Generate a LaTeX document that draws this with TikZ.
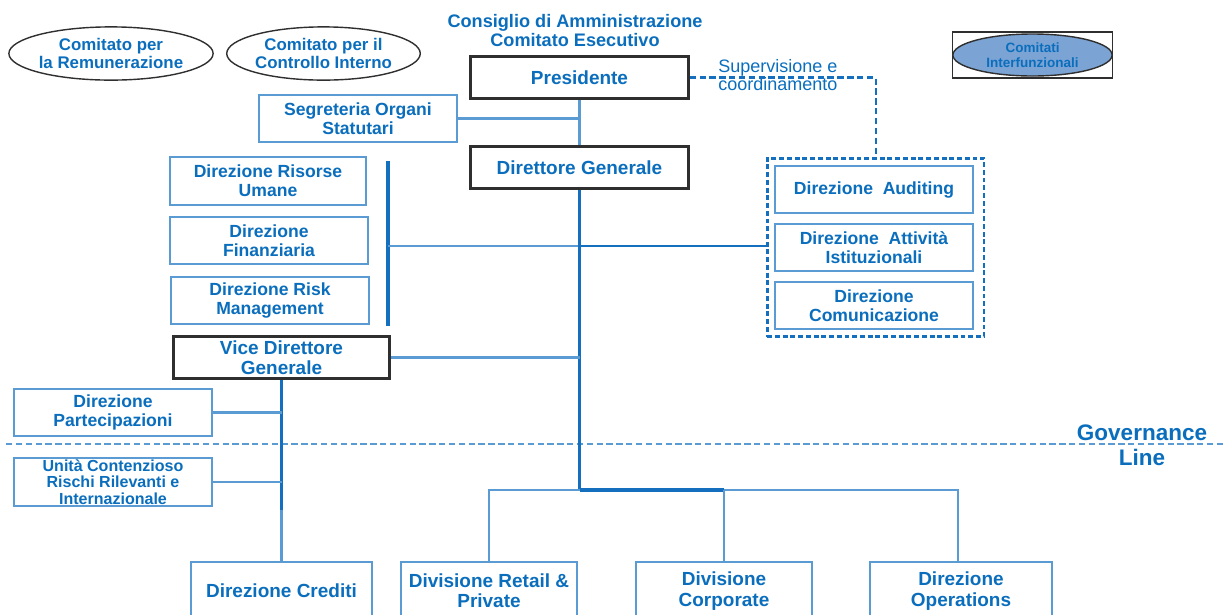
\documentclass[tikz,border=0pt]{standalone}
\usepackage{fontspec}
\setmainfont{Liberation Sans}
\usetikzlibrary{positioning,shapes.geometric,fit}
\definecolor{TextBlue}{HTML}{0A6EBD}
\definecolor{Spine}{HTML}{1470BE}
\definecolor{Branch}{HTML}{5A9BD3}
\definecolor{Frame}{HTML}{2F2F2F}
\definecolor{Bubble}{HTML}{7BA3D4}
\tikzset{
  office/.style={rectangle, draw=Branch, line width=1.4pt, fill=white,
    text=TextBlue, font=\fontsize{12.5}{13.5}\selectfont\bfseries,
    align=center, inner sep=0pt, minimum width=4.95cm, minimum height=1.18cm},
  chief/.style={office, draw=Frame, line width=2.2pt,
    font=\fontsize{13.5}{14.5}\selectfont\bfseries, minimum height=1.03cm},
  division/.style={office, font=\fontsize{13.5}{14.5}\selectfont\bfseries,
    minimum height=1.45cm},
  committee/.style={ellipse, draw=Frame, line width=1pt, text=TextBlue,
    align=center, inner sep=0pt, minimum height=1.33cm,
    font=\fontsize{12}{13.2}\selectfont\bfseries},
  spine/.style={draw=Spine, line width=2.2pt},
  branch/.style={draw=Branch, line width=1.5pt},
  oversight/.style={draw=Spine, line width=1.5pt, dash pattern=on 4.5pt off 2.5pt},
  staffgroup/.style={draw=Spine, line width=2pt, dash pattern=on 3.5pt off 2pt,
    inner xsep=0.21cm, inner ysep=0.17cm},
  govline/.style={draw=Branch, line width=1.4pt, dash pattern=on 4.5pt off 2.5pt}
}

\begin{document}
\begin{tikzpicture}[x=0.025cm, y=-0.025cm]
  \useasboundingbox (0,0) rectangle (1224,614);
  \clip (0,0) rectangle (1224,614);

  % committees
  \node[committee, minimum width=4.93cm] (remun) at (111,53.5) {Comitato per\\la Remunerazione};
  \node[committee, minimum width=4.83cm] (controllo) at (323.5,53.5) {Comitato per il\\Controllo Interno};
  \node[draw=Frame, line width=0.8pt, minimum width=3.98cm, minimum height=1.15cm] (interfFrame) at (1032.5,55) {};
  \node[committee, fill=Bubble, minimum width=3.98cm, minimum height=1.05cm,
    font=\fontsize{9.6}{10.6}\selectfont\bfseries] (interf) at (1032.5,55) {Comitati\\Interfunzionali};

  % top governance
  \node[text=TextBlue, align=center, font=\fontsize{12.9}{13.6}\selectfont\bfseries] (consiglio) at (575,30.5)
    {Consiglio di Amministrazione\\Comitato Esecutivo};
  \node[chief, minimum width=5.43cm] (pres) at (579.5,77.5) {Presidente};
  \node[text=TextBlue, align=left, anchor=west, inner sep=0pt,
    font=\fontsize{12.8}{13}\selectfont] (superv) at (718,75) {Supervisione e\\coordinamento};
  \node[office] (segr) at (358,118.5) {Segreteria Organi\\Statutari};
  \node[chief, minimum width=5.43cm] (dg) at (579.5,167.5) {Direttore Generale};

  % staff left
  \node[office, minimum width=4.9cm, minimum height=1.2cm] (risorse) at (268,181) {Direzione Risorse\\Umane};
  \node[office] (finanz) at (269,240.5) {Direzione\\Finanziaria};
  \node[office] (risk) at (270,300.5) {Direzione Risk\\Management};
  \coordinate (barTop) at (388,161);
  \coordinate (barBot) at (388,326);
  \coordinate (barMid) at (388,246);

  % staff right
  \node[office] (auditing) at (874,189.5) {Direzione\ \ Auditing};
  \node[office] (attivita) at (874,247.5) {Direzione\ \ Attività\\Istituzionali};
  \node[office] (comunic) at (874,305.5) {Direzione\\Comunicazione};
  \node[staffgroup, fit=(auditing)(comunic), xshift=0.04cm] (staff) {};

  % vice direttore
  \node[chief, minimum width=5.38cm] (vdg) at (281.5,357.5) {Vice Direttore\\Generale};
  \node[office] (partec) at (113,412.5) {Direzione\\Partecipazioni};
  \node[office, minimum height=1.2cm, font=\fontsize{11.4}{11.9}\selectfont\bfseries] (unita) at (113,482)
    {Unità Contenzioso\\Rischi Rilevanti e\\Internazionale};

  % governance line
  \coordinate (govL) at (6,444);
  \coordinate (govR) at (1224,444);
  \draw[govline] (govL) -- (govR);
  \node[text=TextBlue, align=center, font=\fontsize{16}{17.7}\selectfont\bfseries] (govtext) at (1142,445.5)
    {Governance\\Line};

  % business lines
  \node[division, minimum width=4.53cm] (crediti) at (281.5,591) {Direzione Crediti};
  \node[division, minimum width=4.4cm] (retail) at (489,591) {Divisione Retail \&\\Private};
  \node[division, minimum width=4.4cm] (corporate) at (724,591) {Divisione\\Corporate};
  \node[division, minimum width=4.55cm] (operations) at (961,591) {Direzione\\Operations};
  \coordinate (hub) at (dg.south |- 0,490);

  % connectors
  \draw[oversight] (pres.east) -| (staff.north);
  \draw[branch] (pres) -- (dg);
  \draw[branch] (segr.east) -- (segr.east -| pres.south);
  \draw[spine] (barTop) -- (barBot);
  \draw[branch] (barMid) -- (barMid -| dg.south);
  \draw[draw=Spine, line width=1.3pt] (barMid -| dg.south) -- (barMid -| staff.west);
  \draw[spine] (dg.south) -- (hub);
  \draw[branch] (vdg.east) -- (vdg.east -| dg.south);
  \draw[spine] (vdg.south) -- (vdg.south |- 0,510);
  \draw[branch] (vdg.south |- 0,510) -- (crediti.north);
  \draw[branch] (partec.east) -- (partec.east -| vdg.south);
  \draw[branch] (unita.east) -- (unita.east -| vdg.south);
  \draw[branch] (hub) -| (retail.north);
  \draw[spine] (hub) -- (hub -| corporate.north);
  \draw[branch] (hub -| corporate.north) -- (corporate.north);
  \draw[branch] (hub -| corporate.north) -| ([xshift=-0.08cm]operations.north);
\end{tikzpicture}
\end{document}
